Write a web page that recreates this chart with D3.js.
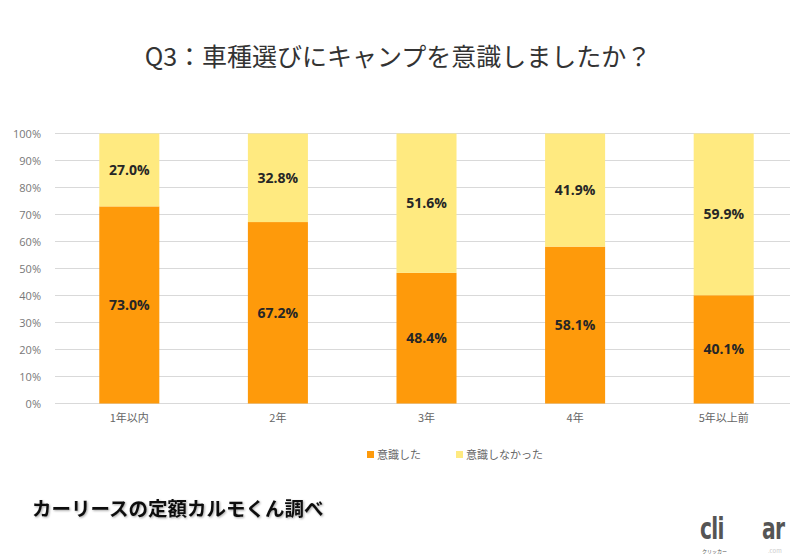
<!DOCTYPE html>
<html><head><meta charset="utf-8">
<script src="https://cdn.jsdelivr.net/npm/d3@7"></script>
<style>body{margin:0;background:#fff}svg{display:block}</style>
</head><body>
<svg id="c" width="800" height="555"></svg>
<script>
const categories = ["1年以内","2年","3年","4年","5年以上前"];
const seriesNames = ["意識した","意識しなかった"];
const conscious = [73.0, 67.2, 48.4, 58.1, 40.1];
const notConscious = [27.0, 32.8, 51.6, 41.9, 59.9];
const yTicks = [0,10,20,30,40,50,60,70,80,90,100];
const colors = ["#FE9A0B","#FFEA80"];

const svg = d3.select("#c");
const font = "'Noto Sans CJK JP','Noto Sans',sans-serif";

const x = d3.scaleBand().domain(categories).range([55,798]).paddingInner(0.596).paddingOuter(0.298);
const y = d3.scaleLinear().domain([0,100]).range([403.5,133.5]);

// title
svg.append("text").attr("x",398).attr("y",66).attr("text-anchor","middle")
  .attr("font-family",font).attr("font-size",25).attr("fill","#333")
  .text("Q3：車種選びにキャンプを意識しましたか？");

// gridlines
svg.append("g").selectAll("line").data(yTicks).join("line")
  .attr("x1",55).attr("x2",790).attr("y1",d=>y(d)).attr("y2",d=>y(d))
  .attr("stroke","#d9d9d9").attr("stroke-width",1);

// y axis labels
const yAxis = d3.axisLeft(y).tickValues(yTicks).tickFormat(d=>d+"%").tickSize(0).tickPadding(0);
const ya = svg.append("g").attr("transform","translate(41,0)").call(yAxis);
ya.select(".domain").remove();
ya.selectAll("text").attr("font-family","'Open Sans','Noto Sans',sans-serif").attr("font-size",11).attr("fill","#777");

// x axis labels
const xAxis = d3.axisBottom(x).tickSize(0).tickPadding(0);
const xa = svg.append("g").attr("transform","translate(0,414)").call(xAxis);
xa.select(".domain").remove();
xa.selectAll("text").attr("font-family",font).attr("font-size",11).attr("fill","#666");

// stacked data
const rows = categories.map((c,i)=>({cat:c, a:conscious[i], b:notConscious[i]}));
const stack = d3.stack().keys(["a","b"])(rows);

const g = svg.append("g");
stack.forEach((layer,li)=>{
  g.selectAll(null).data(layer).join("rect")
    .attr("x",d=>x(d.data.cat)).attr("width",x.bandwidth())
    .attr("y",d=>y(d[1])).attr("height",d=>y(d[0])-y(d[1]))
    .attr("fill",colors[li]);
  g.selectAll(null).data(layer).join("text")
    .attr("x",d=>x(d.data.cat)+x.bandwidth()/2)
    .attr("y",d=>(y(d[0])+y(d[1]))/2)
    .attr("dy","0.35em").attr("text-anchor","middle")
    .attr("font-family","'Open Sans','Noto Sans',sans-serif").attr("font-weight","bold")
    .attr("font-size",14).attr("fill","#262626")
    .text(d=>(d[1]-d[0]).toFixed(1)+"%");
});

// legend
const legX = [367, 456];
seriesNames.forEach((n,i)=>{
  svg.append("rect").attr("x",legX[i]).attr("y",451).attr("width",7).attr("height",7).attr("fill",colors[i]);
  svg.append("text").attr("x",legX[i]+10).attr("y",455).attr("dy","0.35em")
    .attr("font-family",font).attr("font-size",11).attr("fill","#666").text(n);
});

// footer
const defs = svg.append("defs");
const f = defs.append("filter").attr("id","sh").attr("x","-5%").attr("y","-20%").attr("width","110%").attr("height","140%");
f.append("feDropShadow").attr("dx",1).attr("dy",1).attr("stdDeviation",1).attr("flood-color","#000").attr("flood-opacity",0.35);
svg.append("text").attr("x",32).attr("y",516).attr("font-family",font).attr("font-weight","bold")
  .attr("font-size",19.5).attr("fill","#111").attr("filter","url(#sh)")
  .text("カーリースの定額カルモくん調べ");

// logo
const logoFont = "'Liberation Sans Narrow','DejaVu Sans Condensed',sans-serif";
svg.append("text").attr("transform","translate(700,539) scale(0.75,1)").attr("font-family",logoFont)
  .attr("font-weight","bold").attr("font-size",30).attr("fill","#555").attr("letter-spacing","-1").text("cli");
svg.append("text").attr("transform","translate(762,539) scale(0.75,1)").attr("font-family",logoFont)
  .attr("font-weight","bold").attr("font-size",30).attr("fill","#555").attr("letter-spacing","-1").text("ar");
svg.append("text").attr("x",702).attr("y",553).attr("font-family",font).attr("font-size",5).attr("fill","#555").text("クリッカー");
svg.append("text").attr("x",768).attr("y",553).attr("font-family",font).attr("font-size",6).attr("fill","#ccc").text(".com");
</script>
</body></html>
